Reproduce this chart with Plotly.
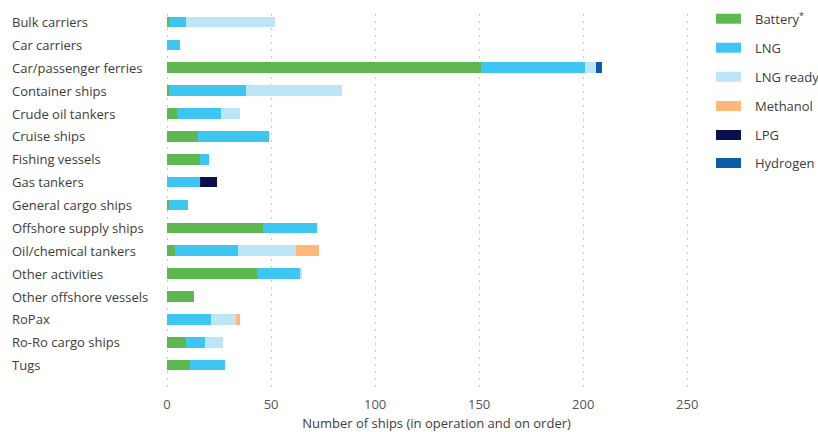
import plotly.graph_objects as go

categories = ["Bulk carriers", "Car carriers", "Car/passenger ferries", "Container ships",
              "Crude oil tankers", "Cruise ships", "Fishing vessels", "Gas tankers",
              "General cargo ships", "Offshore supply ships", "Oil/chemical tankers",
              "Other activities", "Other offshore vessels", "RoPax", "Ro-Ro cargo ships", "Tugs"]

battery   = [1, 0, 151, 1, 5, 15, 16, 0, 1, 46, 4, 43, 13, 0, 9, 11]
lng       = [8, 6, 50, 37, 21, 34, 4, 16, 9, 26, 30, 21, 0, 21, 9, 17]
lng_ready = [43, 0, 5, 46, 9, 0, 0, 0, 0, 0, 28, 1, 0, 12, 9, 0]
methanol  = [0, 0, 0, 0, 0, 0, 0, 0, 0, 0, 11, 0, 0, 2, 0, 0]
lpg       = [0, 0, 0, 0, 0, 0, 0, 8, 0, 0, 0, 0, 0, 0, 0, 0]
hydrogen  = [0, 0, 3, 0, 0, 0, 0, 0, 0, 0, 0, 0, 0, 0, 0, 0]

series_names = ["Battery<sup>*</sup>", "LNG", "LNG ready", "Methanol", "LPG", "Hydrogen"]
series_vals = [battery, lng, lng_ready, methanol, lpg, hydrogen]
colors = ["#5DB94F", "#3EC6F2", "#BDE5F8", "#FFB878", "#0A0F4F", "#0B5CAB"]

W, H = 818, 432
ML, MR, MT, MB = 165, 110, 14, 44
PW, PH = W - ML - MR, H - MT - MB

def px_x(p):
    return (p - ML) / PW

def px_y(p):
    return (H - MB - p) / PH

FONT = "Open Sans"
TXT = "#3c3c3c"

fig = go.Figure()
for name, vals, col in zip(series_names, series_vals, colors):
    fig.add_trace(go.Bar(y=categories, x=vals, name=name, orientation="h",
                         marker=dict(color=col, line=dict(width=0)), showlegend=False))

annotations = []
for c in categories:
    annotations.append(dict(x=px_x(10), xref="paper", y=c, yref="y", text=c, showarrow=False,
                            xanchor="left", yanchor="middle",
                            font=dict(family=FONT, size=13, color=TXT)))

shapes = []
legend_y = [18.7, 47.7, 76.7, 106, 135, 163]
for name, col, yc in zip(series_names, colors, legend_y):
    shapes.append(dict(type="rect", xref="paper", yref="paper",
                       x0=px_x(716), x1=px_x(741), y0=px_y(yc + 5), y1=px_y(yc - 5),
                       fillcolor=col, line=dict(width=0)))
    annotations.append(dict(x=px_x(753), xref="paper", y=px_y(yc), yref="paper", text=name,
                            showarrow=False, xanchor="left", yanchor="middle",
                            font=dict(family=FONT, size=13, color=TXT)))

fig.update_layout(
    width=W, height=H, barmode="stack", bargap=0.54,
    margin=dict(l=ML, r=MR, t=MT, b=MB, autoexpand=False),
    paper_bgcolor="white", plot_bgcolor="white",
    font=dict(family=FONT, size=13, color=TXT),
    annotations=annotations, shapes=shapes,
    xaxis=dict(range=[-1, 260], tickvals=[0, 50, 100, 150, 200, 250], automargin=False,
               showgrid=True, gridcolor="#c8c8c8", griddash="2px,5px", gridwidth=1,
               zeroline=False, showline=False,
               ticks="outside", ticklen=4, tickcolor="rgba(0,0,0,0)",
               tickfont=dict(family=FONT, size=13, color="#555"),
               title=dict(text="Number of ships (in operation and on order)", standoff=7,
                          font=dict(family=FONT, size=13, color=TXT))),
    yaxis=dict(categoryorder="array", categoryarray=categories, range=[16.0, -0.35],
               automargin=False,
               showticklabels=False, showgrid=False, zeroline=False, showline=False),
)

fig.write_html("out.html")
